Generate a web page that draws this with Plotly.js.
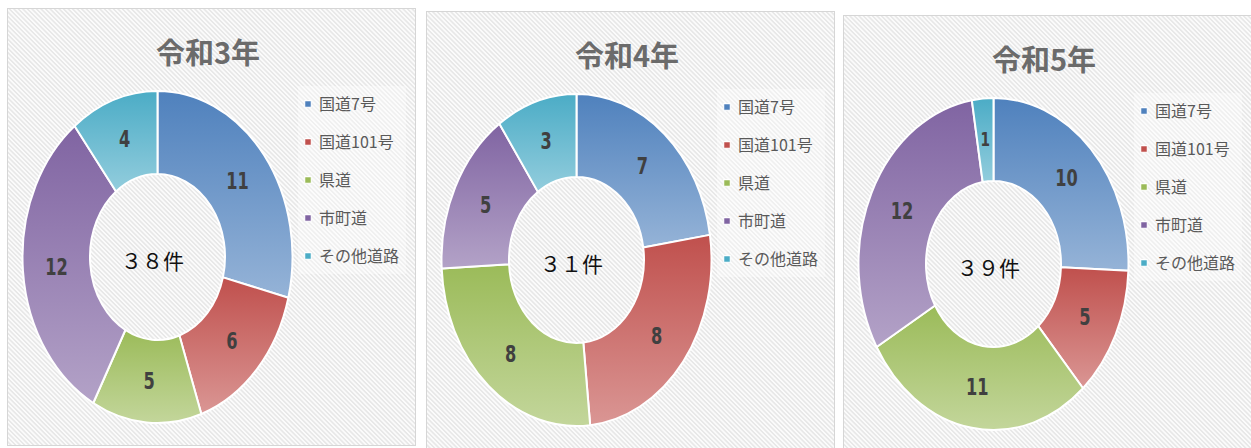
<!DOCTYPE html>
<html>
<head>
<meta charset="utf-8">
<script src="https://cdn.plot.ly/plotly-3.0.1.min.js"></script>
<style>
  html, body { margin: 0; padding: 0; background: #ffffff; width: 1251px; height: 448px; overflow: hidden; }
  .panel {
    position: absolute; box-sizing: border-box; width: 409px; height: 438px;
    border: 1px solid #d6d6d6;
    background-color: #f1f1f1;
    background-image: repeating-linear-gradient(45deg, #fbfbfb 0px, #fbfbfb 1px, #e8e8e8 1.6px, #e8e8e8 2.6px, #fbfbfb 3.2px);
  }
  .plot { position: absolute; left: 0; top: 0; width: 407px; height: 436px; }
</style>
</head>
<body>
<div class="panel" id="p0" style="left:7px; top:8px;"><div class="plot" id="g0"></div></div>
<div class="panel" id="p1" style="left:426px; top:11px;"><div class="plot" id="g1"></div></div>
<div class="panel" id="p2" style="left:843px; top:15px;"><div class="plot" id="g2"></div></div>
<script>
// ---- data ----
const categories = ['国道7号', '国道101号', '県道', '市町道', 'その他道路'];
const yearTitles = ['令和3年', '令和4年', '令和5年'];
const valuesR3 = [11, 6, 5, 12, 4];
const valuesR4 = [7, 8, 8, 5, 3];
const valuesR5 = [10, 5, 11, 12, 1];
const countUnit = '件';

// ---- styles ----
const colorsTop = ['#4f81bd', '#c0504d', '#9bbb59', '#8064a2', '#4bacc6'];
const colorsBottom = ['#95b3d7', '#da9694', '#c3d69b', '#b3a2c7', '#93cddd'];
const W = 407, H = 436;
const CX = 149.5, CY = 248, R = 135, RY = 166;
const HOLE = 0.5;
const STRETCH = RY / R;
const CJK = '"Noto Sans CJK JP", "Noto Sans", sans-serif';
const NUMFONT = '"Liberation Sans Narrow", "DejaVu Sans Condensed", "Liberation Sans", sans-serif';

function toFullWidth(n) {
  return String(n).replace(/[0-9]/g, d => String.fromCharCode(d.charCodeAt(0) + 0xFEE0));
}

const seriesList = [valuesR3, valuesR4, valuesR5];

function buildPanel(idx) {
  const vals = seriesList[idx];
  const total = vals.reduce((a, b) => a + b, 0);
  const cyB = H - CY;
  const trace = {
    type: 'pie',
    labels: categories,
    values: vals,
    hole: HOLE,
    sort: false,
    direction: 'clockwise',
    rotation: 0,
    marker: { colors: colorsTop, line: { color: '#ffffff', width: 2 } },
    textinfo: 'value',
    textposition: 'inside',
    insidetextorientation: 'horizontal',
    textfont: { family: NUMFONT, size: 18, color: '#404040', weight: 'bold' },
    domain: { x: [(CX - R) / W, (CX + R) / W], y: [(cyB - R) / H, (cyB + R) / H] },
    hoverinfo: 'none'
  };
  const layout = {
    width: W, height: H,
    margin: { l: 0, r: 0, t: 0, b: 0 },
    paper_bgcolor: 'rgba(0,0,0,0)',
    plot_bgcolor: 'rgba(0,0,0,0)',
    title: {
      text: yearTitles[idx],
      x: 200 / W, xanchor: 'center',
      y: 1 - 45 / H, yanchor: 'middle',
      font: { family: CJK, size: 29, color: '#6b6b6b', weight: 'bold' }
    },
    showlegend: true,
    legend: {
      x: 271 / W, xanchor: 'left',
      y: 1 - 78 / H, yanchor: 'top',
      bgcolor: 'rgba(0,0,0,0)',
      font: { family: CJK, size: 16, color: '#595959' },
      traceorder: 'normal'
    },
    shapes: [{
      type: 'rect', xref: 'paper', yref: 'paper', layer: 'below',
      x0: 290 / W, x1: 398 / W, y0: 1 - 265 / H, y1: 1 - 77 / H,
      fillcolor: 'rgba(255,255,255,0.35)', line: { width: 0 }
    }],
    annotations: [{
      text: toFullWidth(total) + countUnit,
      xref: 'paper', yref: 'paper',
      x: 144 / W, y: 1 - 251 / H, xanchor: 'center', yanchor: 'middle',
      showarrow: false,
      font: { family: CJK, size: 21, color: '#111111' }
    }]
  };
  const gd = document.getElementById('g' + idx);
  return Plotly.newPlot(gd, [trace], layout, { staticPlot: true, displayModeBar: false }).then(() => post(gd, idx));
}

function post(gd, idx) {
  const NS = 'http://www.w3.org/2000/svg';
  const svg = gd.querySelector('svg.main-svg');
  const defs = document.createElementNS(NS, 'defs');
  colorsTop.forEach((c, k) => {
    const lg = document.createElementNS(NS, 'linearGradient');
    lg.setAttribute('id', 'grad' + idx + '_' + k);
    lg.setAttribute('x1', '0'); lg.setAttribute('y1', '0');
    lg.setAttribute('x2', '0'); lg.setAttribute('y2', '1');
    const s1 = document.createElementNS(NS, 'stop');
    s1.setAttribute('offset', '0'); s1.setAttribute('stop-color', colorsTop[k]);
    const s2 = document.createElementNS(NS, 'stop');
    s2.setAttribute('offset', '1'); s2.setAttribute('stop-color', colorsBottom[k]);
    lg.appendChild(s1); lg.appendChild(s2);
    defs.appendChild(lg);
  });
  svg.insertBefore(defs, svg.firstChild);

  const cd = (gd.calcdata && gd.calcdata[0]) || [];
  const cd0 = cd[0] || {};
  const r = cd0.r || R;

  // gradient fills for slices + centre each value label in the middle of the ring
  const slices = gd.querySelectorAll('.pielayer g.slice');
  slices.forEach((sl, k) => {
    const p = sl.querySelector('path.surface');
    if (p) {
      p.style.fill = 'url(#grad' + idx + '_' + k + ')';
      p.style.vectorEffect = 'non-scaling-stroke';
    }
    const t = sl.querySelector('text.slicetext');
    const pt = cd[k];
    if (t && pt && pt.pxmid && cd0.cx !== undefined) {
      try {
        const bb = t.getBBox();
        const m = t.transform.baseVal.consolidate();
        const mx = m ? m.matrix : { a: 1, b: 0, c: 0, d: 1, e: 0, f: 0 };
        const bx = bb.x + bb.width / 2, by = bb.y + bb.height / 2;
        const curX = mx.a * bx + mx.c * by + mx.e;
        const curY = mx.b * bx + mx.d * by + mx.f;
        const f = (1 + HOLE) / 2;
        const wantX = cd0.cx + pt.pxmid[0] * f;
        const wantY = cd0.cy + pt.pxmid[1] * f;
        const dx = wantX - curX, dy = wantY - curY;
        t.setAttribute('transform', 'translate(' + dx + ',' + dy + ') ' + (t.getAttribute('transform') || ''));
      } catch (e) {}
    }
  });
  // vertical stretch of the donut (elliptical ring as in the reference)
  let cy = CY;
  if (cd0.cy) cy = cd0.cy;
  gd.querySelectorAll('.pielayer g.trace').forEach(t => {
    t.setAttribute('transform', 'matrix(1,0,0,' + STRETCH + ',0,' + (cy * (1 - STRETCH)) + ')');
  });

  // legend: spacing and small square markers
  const items = gd.querySelectorAll('.legend g.traces');
  let y0 = null, x0 = 0;
  items.forEach((g, i) => {
    const tr = g.getAttribute('transform') || '';
    const m = tr.match(/translate\(([-\d.]+)[ ,]+([-\d.]+)\)/);
    if (i === 0 && m) { x0 = parseFloat(m[1]); y0 = parseFloat(m[2]); }
    if (y0 !== null) g.setAttribute('transform', 'translate(' + x0 + ',' + (y0 + i * 38) + ')');
    const lp = g.querySelector('.legendpoints path');
    if (lp) lp.setAttribute('transform', 'translate(29,0) scale(0.55)');
  });
  const sb = gd.querySelector('.legend .scrollbox');
  if (sb) sb.removeAttribute('clip-path');
}

buildPanel(0);
buildPanel(1);
buildPanel(2);
</script>
</body>
</html>
